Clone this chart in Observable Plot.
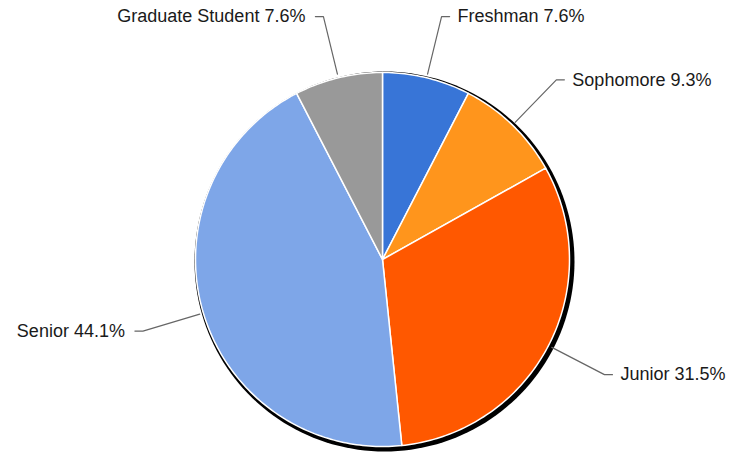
<!DOCTYPE html>
<html><head><meta charset="utf-8">
<script src="https://cdn.jsdelivr.net/npm/d3@7"></script>
<script src="https://cdn.jsdelivr.net/npm/@observablehq/plot@0.6"></script>
<style>body{margin:0;background:#fff;} svg{display:block;}</style>
</head><body><div id="chart"></div>
<script>
const categories = ["Freshman", "Sophomore", "Junior", "Senior", "Graduate Student"];
const values = [7.6, 9.3, 31.5, 44.1, 7.6];
const colors = ["#3875d7", "#ff951c", "#ff5800", "#7ea6e8", "#999999"];
const labels = ["Freshman 7.6%", "Sophomore 9.3%", "Junior 31.5%", "Senior 44.1%", "Graduate Student 7.6%"];

const total = d3.sum(values);
const toRad = Math.PI / 180;
let acc = 0;
const slices = categories.map((c, i) => {
  const a0 = acc / total * 360;
  acc += values[i];
  const a1 = acc / total * 360;
  return {cat: c, a0, a1, mid: (a0 + a1) / 2, label: labels[i]};
});
const pt = (deg, r) => [r * Math.sin(deg * toRad), r * Math.cos(deg * toRad)];

const sliceRows = [];
slices.forEach(s => {
  sliceRows.push({cat: s.cat, x: 0, y: 0});
  const n = Math.max(2, Math.ceil(s.a1 - s.a0));
  for (let k = 0; k <= n; k++) {
    const [x, y] = pt(s.a0 + (s.a1 - s.a0) * k / n, 1);
    sliceRows.push({cat: s.cat, x, y});
  }
  sliceRows.push({cat: s.cat, x: 0, y: 0});
});
const shadowRows = d3.range(0, 361, 2).map(a => { const [x, y] = pt(a, 190 / 187); return {x, y}; });

const leaderRows = [];
const textRows = [];
slices.forEach(s => {
  const [x0, y0] = pt(s.mid, 1.02);
  const [x1, y1] = pt(s.mid, 1.337);
  const side = x1 >= 0 ? 1 : -1;
  leaderRows.push({cat: s.cat, x: x0, y: y0});
  leaderRows.push({cat: s.cat, x: x1, y: y1});
  leaderRows.push({cat: s.cat, x: x1 + side * 0.043, y: y1});
  textRows.push({x: x1, y: y1, side, label: s.label});
});

const chart = Plot.plot({
  width: 732, height: 452,
  x: {domain: [-1, 1], range: [195, 569], axis: null},
  y: {domain: [-1, 1], range: [446, 72], axis: null},
  color: {domain: categories, range: colors},
  style: {fontFamily: "Liberation Sans, Arial, sans-serif", background: "#fff"},
  marks: [
    Plot.line(shadowRows, {x: "x", y: "y", fill: "black", stroke: "none", dx: 2, dy: 2}),
    Plot.line(sliceRows, {x: "x", y: "y", z: "cat", fill: "cat", stroke: "white", strokeWidth: 1.5, strokeLinejoin: "round"}),
    Plot.line(leaderRows, {x: "x", y: "y", z: "cat", stroke: "#666", strokeWidth: 1.2}),
    Plot.text(textRows.filter(d => d.side > 0), {x: "x", y: "y", text: "label", textAnchor: "start", dx: 16, fontSize: 18, fill: "#1a1a1a"}),
    Plot.text(textRows.filter(d => d.side < 0), {x: "x", y: "y", text: "label", textAnchor: "end", dx: -18, fontSize: 18, fill: "#1a1a1a"})
  ]
});
document.getElementById("chart").append(chart);
</script></body></html>
